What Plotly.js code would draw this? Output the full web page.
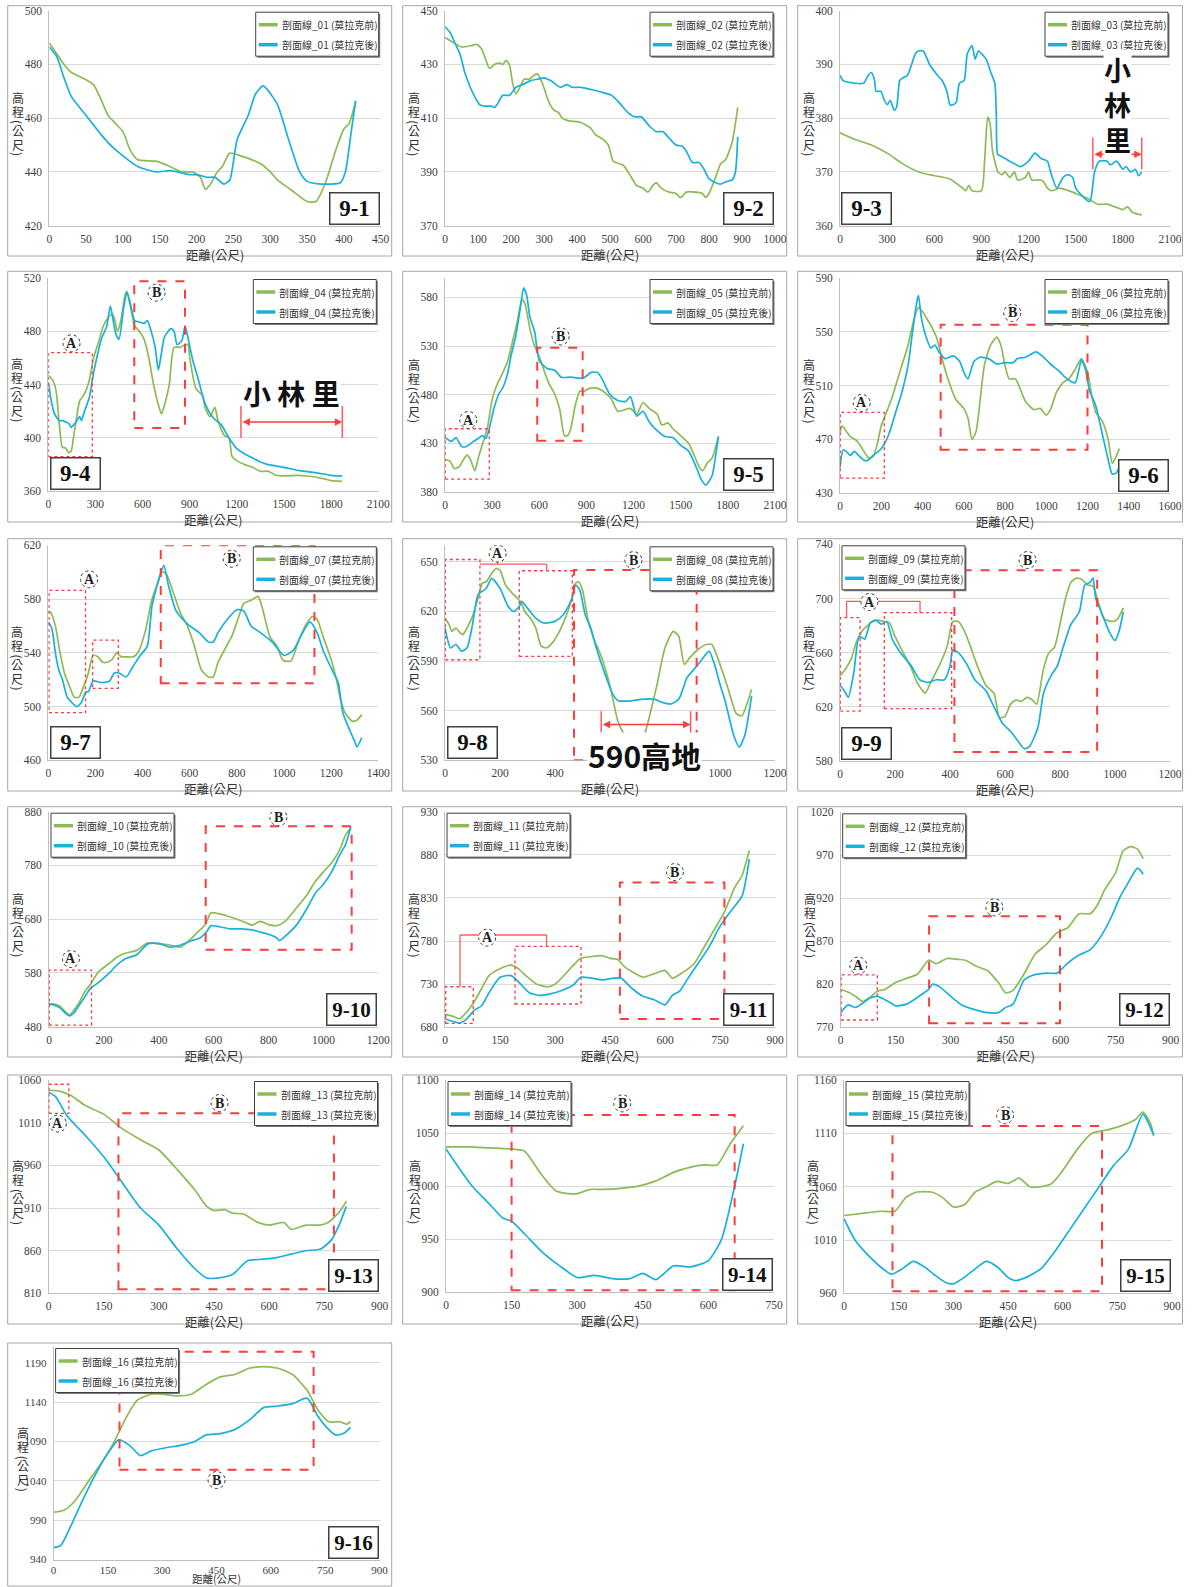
<!DOCTYPE html>
<html><head><meta charset="utf-8">
<script src="https://cdn.plot.ly/plotly-3.0.1.min.js"></script>
<style>html,body{margin:0;padding:0;background:#fff;}#chart{width:1192px;height:1587px;}</style>
</head><body><div id="chart"></div>
<script>
// ---------------- DATA ----------------
const panelLabels = ['9-1','9-2','9-3','9-4','9-5','9-6','9-7','9-8','9-9','9-10','9-11','9-12','9-13','9-14','9-15','9-16'];
const profileIds = ['01','02','03','04','05','06','07','08','09','10','11','12','13','14','15','16'];
const beforeSuffix = ' (莫拉克前)';
const afterSuffix = ' (莫拉克後)';
const xTitleText = '距離(公尺)';
const yTitleChars = ['高','程','(','公','尺',')'];

const xMax  = [450,1000,2100,2100,2100,1600,1400,1200,1200,1200,900,900,900,750,900,900];
const xStep = [50,100,300,300,300,200,200,200,200,200,150,150,150,150,150,150];
const yMin  = [420,370,360,360,380,430,460,530,580,480,680,770,810,900,960,940];
const yMax  = [500,450,400,520,600,590,620,660,740,880,930,1020,1060,1100,1160,1210];
const yStep = [20,20,10,40,50,40,40,30,40,100,50,50,50,50,50,50];

const p01BeforeX = [0,10,20,30,45,60,70,80,90,100,110,120,145,160,180,195,205,212,220,228,235,245,260,280,290,300,310,330,350,362,375,390,400,407,416];
const p01BeforeY = [488,484,480,477,475,472.5,467,461,458,455,448,444.5,444,442.5,440,440,438,433.5,436,440,442,447,446,444,442.5,440,437,433,429,429,436,449,456,458,466];
const p01AfterX = [0,10,20,30,50,70,85,100,120,145,165,190,200,215,225,237,245,255,270,280,290,295,310,325,340,350,370,395,402,410,416];
const p01AfterY = [486.5,483,475,468,461,454,449.5,446,442,440,440.5,439,439,438,438,435.5,437,452,461,469,472,471,465,452,440,436.5,435.5,436,440,455,466.5];

const p02BeforeX = [0,20,50,80,95,110,120,135,150,165,175,185,195,205,215,225,240,255,270,280,295,315,330,345,355,375,410,440,455,480,495,510,540,560,580,600,615,630,640,655,680,700,712,720,730,760,780,790,800,820,835,850,870,887];
const p02BeforeY = [440,438.5,436.5,437,437.5,436,433,428.5,430,430.5,430,431.5,430,423,419,421,424.5,424.5,426,426.5,423,416,413,412,410,409,408.5,406.5,404,402,400,394,392.5,389,385,384,382.5,385,386,384,382.5,382,380.5,381,382.5,382.5,382,380.5,382,388,393,394.5,401,414];
const p02AfterX = [0,15,30,45,60,75,90,105,120,140,150,160,175,195,215,235,260,280,300,320,350,370,385,410,450,480,505,530,555,575,595,620,640,660,680,700,720,730,750,770,785,800,820,835,855,870,880,887];
const p02AfterY = [444,442,438,434,427,422,418,415,414.5,414.5,414,415.5,418.5,418.5,421.5,422.5,424,424.5,425,424,421.5,422.5,421.5,421.5,420.5,419.5,418.5,415.5,412,410.5,410.5,407,405,405,402.5,400,399.5,398,393.5,393.5,391,387.5,386,385.5,386.5,387,390,403];

const p03BeforeX = [0,100,200,300,400,500,600,700,780,800,820,840,900,920,940,955,970,985,1005,1030,1050,1080,1110,1130,1180,1200,1220,1280,1300,1320,1350,1400,1500,1580,1640,1700,1750,1800,1830,1860,1920];
const p03BeforeY = [377.3,376,375,373.5,371.5,370,369.3,368.7,367,366.5,367.5,366.5,366.5,372,380.2,379,374,372,370,369.5,370,369,370,368.5,369,370,368.5,368.5,368,367,366.5,367,366,365,364,364,363.5,363,363.5,362.5,362];
const p03AfterX = [0,20,100,150,180,200,220,230,260,280,300,320,345,360,380,400,430,480,500,530,570,620,650,680,700,720,740,760,790,810,840,860,880,900,930,960,985,995,1003,1020,1080,1150,1200,1240,1280,1320,1340,1380,1420,1450,1480,1500,1560,1590,1600,1620,1650,1700,1720,1760,1800,1820,1850,1880,1900,1920];
const p03AfterY = [388,387,386.5,386.5,388,388.5,387,385,385,383.5,382.5,383.3,381.5,382,387,387.5,388,392,392.5,392.5,390,388,387,385,382.5,382.5,383,386.5,387,392,393.5,391,392.5,392,391,388.5,386.5,380,373.3,373,372,371,372,373.5,372.5,372,370,367,369,369.5,369,367,365,364.5,365.5,370,372,372,371.3,372,370.5,371,370,370.5,369.3,370];

const p04BeforeX = [0,30,50,70,90,110,130,145,160,180,200,230,260,290,320,350,380,405,420,440,460,490,500,520,550,580,610,640,670,700,720,740,770,800,840,870,890,900,940,980,1000,1030,1060,1080,1120,1150,1170,1200,1250,1300,1350,1400,1450,1500,1580,1650,1750,1800,1870];
const p04BeforeY = [447,443,435,410,393,392.5,389,390,400,415,428,433,443,461,472,484,490,493,490,480,487,508,510,500,484,480,474,460,440,425,418,425,440,468,468,470,470,460,437,432,422,416,423,413,402,400,386,383,380,378,375,375,372,371.5,372,371.5,369.5,368,367.5];
const p04AfterX = [0,20,40,70,90,110,130,145,170,200,210,230,260,290,320,340,370,395,410,430,450,480,500,520,550,580,610,630,650,680,700,715,740,780,800,820,850,870,880,920,950,1000,1050,1100,1150,1200,1250,1300,1350,1400,1500,1600,1700,1800,1870];
const p04AfterY = [442,427,418,413,413,412,411,408,411,416,413,420,430,450,466,475,483,499,490,478,474,498,509,502,488,487,486,488,482,468,451,460,476,482,480,470,473,484,480,458,446,425,415,410,400,392,388,385,382,380,378,375.5,374,372,371.5];

const p05BeforeX = [0,30,60,90,120,140,160,190,210,240,270,300,330,360,400,430,460,490,510,540,570,600,630,660,700,730,760,780,800,830,860,880,910,950,980,1020,1060,1100,1150,1180,1220,1260,1300,1350,1380,1420,1450,1500,1550,1580,1620,1640,1670,1700,1720,1740];
const p05BeforeY = [413,412,404,406,414,418,414,402,414,430,446,475,490,500,515,535,555,578,573,548,530,519,505,492,480,465,438,438,445,470,484,483,486,487,486,482,475,463,465,466,460,472,466,460,449,451,445,438,430,420,405,402,410,415,425,437];
const p05AfterX = [0,40,70,100,120,150,180,210,240,260,280,310,340,370,400,420,450,480,500,520,540,570,600,650,700,740,800,880,930,970,1000,1050,1100,1150,1180,1220,1260,1300,1350,1400,1450,1500,1550,1600,1630,1660,1700,1720,1740];
const p05AfterY = [436,432,436,428,426,428,432,435,438,435,444,465,480,488,503,520,540,570,590,582,560,545,515,507,505,498,498,497,503,503,496,480,474,473,478,458,463,452,443,437,436,428,422,405,393,387,397,415,437];

const p06BeforeX = [0,10,30,50,80,100,120,140,160,180,200,220,250,280,300,330,360,380,400,420,450,470,500,530,560,600,620,640,660,680,700,730,760,780,800,820,850,880,900,940,970,1000,1020,1050,1080,1110,1140,1170,1200,1220,1240,1270,1300,1320,1335,1355];
const p06BeforeY = [475,480,476,472,469,465,460,456,457,466,480,488,500,515,525,540,560,568,565,560,552,545,527,512,500,493,486,470,476,500,525,540,546,540,525,515,515,505,498,492,493,488,492,505,512,515,522,530,520,503,490,484,470,452,456,463];
const p06AfterX = [0,15,30,50,70,90,120,140,160,180,210,240,270,300,330,350,370,380,395,420,440,460,480,510,550,580,600,620,650,680,720,760,800,840,860,900,950,980,1020,1060,1100,1140,1160,1170,1190,1210,1240,1270,1300,1320,1340,1355];
const p06AfterY = [449,462,461,458,461,458,454,455,458,460,465,475,490,505,525,548,570,577,560,545,538,540,535,530,532,528,520,515,528,531,530,526,527,527,530,531,535,532,526,521,515,512,523,529,522,506,495,475,455,444,445,450];

const p07BeforeX = [0,10,30,50,70,90,110,130,150,170,190,210,230,250,270,290,310,330,360,380,410,440,460,480,500,530,560,590,620,650,680,700,720,750,780,810,830,860,890,910,940,970,990,1000,1030,1060,1090,1120,1140,1170,1200,1220,1240,1260,1290,1310,1330];
const p07BeforeY = [571,570,560,540,524,515,507,507,515,525,538,537,533,533,535,540,537,537,537,540,555,580,590,600,599,585,570,560,545,527,522,522,533,543,553,568,577,579,582,572,552,545,536,534,534,548,560,567,565,550,535,522,505,495,489,490,494];
const p07AfterX = [0,15,30,45,60,80,100,120,140,160,170,190,220,240,260,280,300,330,360,390,420,440,470,490,510,540,570,600,640,680,700,720,760,800,830,860,900,950,1000,1040,1070,1110,1140,1170,1210,1230,1250,1280,1300,1310,1330];
const p07AfterY = [563,558,540,527,520,507,503,500,503,511,511,519,518,518,519,525,525,522,530,538,545,575,595,605,590,572,565,560,555,548,548,555,565,572,571,560,555,548,538,542,552,563,555,540,525,518,495,482,474,470,477];

const p08BeforeX = [0,15,25,40,55,65,80,100,120,135,150,170,185,200,220,250,275,290,310,330,350,370,390,410,440,460,475,485,500,520,540,570,600,630,660,690,710,730,770,800,830,850,870,890,920,950,970,1000,1030,1060,1080,1100,1115];
const p08BeforeY = [616,612,608,610,607,606,610,617,628,637,638,643,646,645,636,630,626,620,616,610,599,598,601,606,617,627,637,638,633,615,604,592,575,553,544,545,538,548,575,598,608,605,588,592,597,600,600,588,573,558,557,565,573];
const p08AfterX = [0,20,40,60,80,100,120,150,170,200,230,250,270,280,300,330,360,400,430,460,475,490,510,530,550,580,610,630,680,720,760,790,820,850,880,900,930,960,980,1000,1020,1050,1070,1090,1115];
const p08AfterY = [610,598,600,596,598,612,630,634,640,634,623,620,623,626,622,616,613,614,618,627,636,633,618,610,598,583,570,566,566,567,567,565,564,567,580,584,590,596,588,576,565,545,538,545,569];

const p09BeforeX = [0,20,40,60,80,100,120,140,160,180,200,230,260,280,300,310,330,360,390,410,430,450,470,500,530,560,580,600,620,640,660,680,700,715,740,760,780,800,820,840,860,880,900,920,940,960,990,1010,1030];
const p09BeforeY = [643,648,655,668,676,680,683,684,683,682,672,660,648,638,632,630,638,650,665,683,683,677,667,650,636,630,612,613,622,625,624,627,625,622,648,660,664,681,700,712,715,714,710,709,697,685,683,685,693];
const p09AfterX = [0,15,30,50,70,90,110,130,150,170,190,220,260,290,320,350,380,400,410,430,460,490,530,560,590,620,650,670,690,720,740,770,790,810,840,870,890,910,920,930,950,980,1000,1015,1030];
const p09AfterY = [636,632,627,645,672,670,682,684,681,683,670,660,650,640,638,640,640,650,662,660,652,640,632,620,608,602,594,589,591,605,630,644,650,663,681,690,710,712,715,700,690,675,669,676,690];

const p10BeforeX = [0,20,40,60,75,90,110,130,150,180,220,250,280,320,360,400,440,480,510,550,570,590,620,650,690,720,740,770,800,830,860,900,940,970,1000,1030,1060,1080,1100];
const p10BeforeY = [523,522,518,508,502,510,525,545,558,582,598,610,617,622,636,634,632,628,640,660,670,692,690,686,679,673,669,676,670,668,676,700,725,750,768,785,810,836,850];
const p10AfterX = [0,20,40,60,75,90,110,130,150,180,220,250,280,320,360,400,440,480,520,550,575,590,620,660,700,740,770,800,830,840,860,900,940,970,1000,1030,1060,1080,1100];
const p10AfterY = [522,520,515,505,500,505,520,535,551,562,580,596,607,614,634,635,628,632,640,645,657,668,666,662,662,660,656,652,645,640,648,668,700,728,745,768,800,818,852];

const p11BeforeX = [0,20,40,60,80,100,120,150,180,200,220,250,280,300,320,350,370,400,430,450,470,490,520,540,570,600,620,650,680,700,730,760,790,810,830];
const p11BeforeY = [695,693,690,698,710,725,740,748,752,748,740,730,727,730,738,752,760,762,763,760,759,750,742,738,742,746,737,744,754,768,790,812,842,856,885];
const p11AfterX = [0,20,40,60,80,100,120,150,180,200,230,260,290,320,350,370,400,430,460,480,510,540,570,600,620,640,660,690,720,750,780,810,830];
const p11AfterY = [690,687,685,690,700,705,720,738,740,733,720,717,719,723,729,738,737,735,737,737,725,716,712,706,717,722,735,754,773,797,815,832,875];

const p12BeforeX = [0,20,40,60,80,100,120,150,180,210,240,260,290,320,340,370,400,430,450,470,500,530,560,590,620,650,680,700,720,750,770,790,810,825];
const p12BeforeY = [814,811,806,800,805,812,814,822,827,832,848,844,850,849,848,841,836,822,810,813,832,855,866,880,886,902,902,912,930,950,975,980,977,966];
const p12AfterX = [0,20,40,60,80,100,130,150,180,210,240,250,270,300,330,370,400,430,450,470,500,520,560,590,620,650,680,710,740,760,780,810,825];
const p12AfterY = [787,796,793,798,804,806,800,795,797,805,814,820,817,806,796,790,787,787,793,797,825,830,833,833,845,854,860,876,900,920,935,955,948];

const p13BeforeX = [0,30,60,100,150,200,250,300,350,400,430,450,480,500,530,570,600,640,660,700,740,760,790,810];
const p13BeforeY = [1048,1047,1042,1030,1020,1003,990,978,955,930,912,907,908,904,903,893,890,893,885,890,890,893,905,918];
const p13AfterX = [0,20,50,100,150,200,250,300,350,400,430,460,500,540,580,620,660,700,740,770,790,810];
const p13AfterY = [1046,1040,1018,995,970,940,910,890,862,838,828,828,832,848,850,852,856,860,862,873,890,912];

const p14BeforeX = [0,50,100,150,180,200,220,250,280,300,330,360,400,440,480,520,560,590,620,650,680];
const p14BeforeY = [1037,1037,1036,1035,1033,1022,1010,996,993,993,997,997,998,1000,1005,1013,1018,1020,1020,1040,1057];
const p14AfterX = [0,30,60,100,130,150,180,220,260,300,340,380,420,450,480,520,560,600,630,660,680];
const p14AfterY = [1035,1017,1000,983,970,967,955,938,925,914,916,913,913,918,912,925,924,930,950,1000,1040];

const p15BeforeX = [0,50,100,140,170,200,240,270,300,330,360,390,420,450,480,510,540,570,600,640,680,720,760,800,820,840,850];
const p15BeforeY = [1033,1035,1037,1037,1050,1055,1055,1050,1041,1043,1055,1060,1065,1063,1068,1060,1060,1063,1075,1095,1110,1113,1117,1123,1130,1120,1108];
const p15AfterX = [0,30,60,100,130,160,190,220,250,280,300,330,360,390,420,450,470,500,540,580,620,660,700,740,780,820,835,850];
const p15AfterY = [1030,1010,998,985,978,983,990,985,977,970,969,975,983,990,985,975,972,975,983,1000,1020,1040,1060,1080,1095,1128,1120,1108];

const p16BeforeX = [0,30,60,100,140,170,200,230,270,300,340,380,420,460,500,540,580,620,660,700,730,760,790,810,820];
const p16BeforeY = [1000,1003,1015,1042,1068,1092,1120,1142,1150,1150,1148,1150,1162,1172,1175,1183,1185,1183,1175,1155,1130,1115,1115,1112,1115];
const p16AfterX = [0,20,50,80,110,140,180,210,240,270,310,350,390,420,460,500,540,580,620,660,700,730,760,780,800,820];
const p16AfterY = [955,958,985,1015,1043,1068,1092,1085,1072,1078,1082,1085,1090,1098,1100,1105,1117,1133,1135,1138,1145,1122,1105,1098,1100,1108];

const series = [
  [p01BeforeX,p01BeforeY,p01AfterX,p01AfterY],[p02BeforeX,p02BeforeY,p02AfterX,p02AfterY],
  [p03BeforeX,p03BeforeY,p03AfterX,p03AfterY],[p04BeforeX,p04BeforeY,p04AfterX,p04AfterY],
  [p05BeforeX,p05BeforeY,p05AfterX,p05AfterY],[p06BeforeX,p06BeforeY,p06AfterX,p06AfterY],
  [p07BeforeX,p07BeforeY,p07AfterX,p07AfterY],[p08BeforeX,p08BeforeY,p08AfterX,p08AfterY],
  [p09BeforeX,p09BeforeY,p09AfterX,p09AfterY],[p10BeforeX,p10BeforeY,p10AfterX,p10AfterY],
  [p11BeforeX,p11BeforeY,p11AfterX,p11AfterY],[p12BeforeX,p12BeforeY,p12AfterX,p12AfterY],
  [p13BeforeX,p13BeforeY,p13AfterX,p13AfterY],[p14BeforeX,p14BeforeY,p14AfterX,p14AfterY],
  [p15BeforeX,p15BeforeY,p15AfterX,p15AfterY],[p16BeforeX,p16BeforeY,p16AfterX,p16AfterY]
];

// annotation regions in data units: [panel, x0, x1, y0, y1]
const regionB = [[4,547,870,407.5,517.5],[5,587,876,432.6,528.4],[6,488,1200,462.2,555.3],[7,477,1129,517.3,620],[8,469,915,530.1,645],[9,416,935,586.6,720.8],[10,571,1103,623.3,852.7],[11,477,762,689.6,848],[12,241,598,774.6,899],[13,190,776,815,1021],[14,150,660,902,1067],[15,133,708,962,1117],[16,182,718,1054,1204]];
const regionA = [[4,1,280,386,464],[5,1,282,393.3,445],[6,1,215,441,490],[7,3,158,495.5,586.5],[7,188,297,513.5,549.5],[8,1,127,590.8,651.4],[8,270,463,592.8,644.6],[9,1,73,616.8,685.8],[9,161,406,618.6,689.5],[10,1,155,483,585.4],[11,2,77,684.5,727],[11,191,371,707,773.9],[12,1,100,778.5,830.9],[13,1,55,1021,1055]];
const markers = [[4,'A',148,471],[4,'B',689,509],[5,'A',148,454],[5,'B',736,540],[6,'A',105,497],[6,'B',835,564],[7,'A',173,594.7],[7,'B',778,610],[8,'A',191.5,655],[8,'B',685,651],[9,'A',107,697.4],[9,'B',682,728.4],[10,'A',80,606],[10,'B',836,869.5],[11,'A',115,784],[11,'B',627,860],[12,'A',48,841.8],[12,'B',419,909.5],[13,'A',25,1009],[13,'B',465,1033],[14,'B',403,1078],[15,'B',442,1127],[16,'B',450,1041]];
const connectors = [[8,[[127,648.6],[370,648.6],[370,644.6]]],[8,[[191.5,651],[191.5,648.6]]],[9,[[24,685.8],[24,697.9],[291,697.9],[291,689.5]]],[11,[[41,727],[41,787],[277,787],[277,774]]]];
const spans = [[3,1609,1920,373.3,370.5,376.4],[4,1226,1871,412,400,424],[8,568,893,551.6,543.6,559.6]];
const bigTexts = [[3,'小<br>林<br>里',1767,382.6,27],[4,'小 林 里',1549,434,28],[8,'590高地',727,533.5,30]];

// ---------------- LAYOUT GEOMETRY (pixels) ----------------
const W = 1192, H = 1587;
const fx = v => v / W, fy = v => 1 - v / H;
const plotRects = [[49.3,10.7,380.7,225.7],[445,10.7,775,225.7],[840,10.7,1170,225.7],
  [48.3,278,378.3,491.3],[445,278,775,492],[840,278,1170,493],
  [48.3,545.3,378.3,760.3],[445,545.3,775,760.3],[840,544.3,1170,761],
  [49,811.7,378.3,1026.7],[445,811.7,775,1027.3],[840.7,812.3,1170.7,1027.3],
  [48.6,1080,379.5,1293.4],[446,1080,774,1292.4],[844,1080,1172,1293.4],
  [53.6,1347,379.5,1559.5]];
const frameCols = [[7.7,391.7],[402.7,786.7],[797.7,1182.5]];
const frameRows = [[5.7,256],[271.3,522],[538.7,791],[806.7,1057],[1075,1324],[1343,1586]];
const legendLeft = [false,false,false,false,false,false,false,false,true,true,true,true,false,true,true,true];
const labelLeft = [false,false,true,true,false,false,true,true,true,false,false,false,false,false,false,false];
const yTitleOffsets = [-21,-7,4,12,26,36];

const GREEN = '#8cbb55', BLUE = '#19b0dc', RED = '#ff3b3b';
const traces = [], shapes = [], annotations = [], legendShapes = [];
const layout = {width:W, height:H, margin:{l:0,r:0,t:0,b:0}, paper_bgcolor:'#fff', plot_bgcolor:'#fff',
  showlegend:false, hovermode:false, shapes, annotations};
const titleFont = {family:'Noto Sans CJK TC', size:12.5, color:'#333'};

for (let i = 0; i < 16; i++) {
  const n = i + 1, sfx = n === 1 ? '' : String(n);
  const xa = 'x' + sfx, ya = 'y' + sfx;
  const [l,t,r,b] = plotRects[i];
  const s = series[i];
  const nameB = '剖面線_' + profileIds[i] + beforeSuffix, nameA = '剖面線_' + profileIds[i] + afterSuffix;
  traces.push({type:'scatter', mode:'lines', x:s[0], y:s[1], name:nameB,
    xaxis:xa, yaxis:ya, line:{color:GREEN, width:1.7, shape:'spline', smoothing:0.6}});
  traces.push({type:'scatter', mode:'lines', x:s[2], y:s[3], name:nameA,
    xaxis:xa, yaxis:ya, line:{color:BLUE, width:1.7, shape:'spline', smoothing:0.6}});
  const lastRow = n === 16;
  const tickFont = {family:'Liberation Serif, Times New Roman, serif', size: lastRow ? 11 : 11.5, color:'#404040'};
  layout['xaxis' + sfx] = {domain:[fx(l), fx(r)], anchor:ya, range:[0, xMax[i]], tick0:0, dtick:xStep[i],
    showgrid:false, zeroline:false, showline:true, linecolor:'#bfbfbf', linewidth:1, ticks:'', tickfont:tickFont,
    ticklabelstandoff: lastRow ? 0 : 2,
    title: lastRow ? {text:''} : {text:xTitleText, font:titleFont, standoff:0}};
  if (lastRow) {
    // the page ends just below this axis: the title sits against the page edge, as in the source
    annotations.push({xref:'paper', yref:'paper', x:fx((l + r) / 2), y:fy(1586.6), text:xTitleText, showarrow:false,
      xanchor:'center', yanchor:'bottom', borderpad:0, font:{family:'Noto Sans CJK TC', size:10.5, color:'#333'}});
  }
  layout['yaxis' + sfx] = {domain:[fy(b), fy(t)], anchor:xa, range:[yMin[i], yMax[i]], tick0:yMin[i], dtick:yStep[i],
    showgrid:true, gridcolor:'#d9d9d9', gridwidth:1, zeroline:false, showline:true, linecolor:'#bfbfbf', linewidth:1,
    ticks:'', tickfont:tickFont, ticklabelstandoff:4};
  // legend box (drawn manually: thick line samples like the source)
  const lgW = 123, lgH = 44;
  const bx0 = legendLeft[i] ? l + 2 : r - 2 - lgW, by0 = t + 1.5;
  legendShapes.push({type:'rect', xref:'paper', yref:'paper', x0:fx(bx0 + 1.5), x1:fx(bx0 + lgW + 1.5),
    y0:fy(by0 + lgH + 1.5), y1:fy(by0 + 1.5), line:{width:0}, fillcolor:'#7a7a7a'});
  legendShapes.push({type:'rect', xref:'paper', yref:'paper', x0:fx(bx0), x1:fx(bx0 + lgW),
    y0:fy(by0 + lgH), y1:fy(by0), line:{color:'#404040', width:1}, fillcolor:'#fff'});
  [[GREEN, nameB],[BLUE, nameA]].forEach(([c, nm], k) => {
    const yy = by0 + 12.5 + 20 * k;
    legendShapes.push({type:'line', xref:'paper', yref:'paper', x0:fx(bx0 + 3), x1:fx(bx0 + 22), y0:fy(yy), y1:fy(yy),
      line:{color:c, width:3.5}});
    annotations.push({xref:'paper', yref:'paper', x:fx(bx0 + 24), y:fy(yy), text:nm, showarrow:false,
      xanchor:'left', yanchor:'middle', font:{family:'Noto Sans CJK TC', size:10, color:'#333'}});
  });
  // frame
  const row = Math.floor(i / 3), col = i % 3;
  shapes.push({type:'rect', xref:'paper', yref:'paper', x0:fx(frameCols[col][0]), x1:fx(frameCols[col][1]),
    y0:fy(frameRows[row][1]), y1:fy(frameRows[row][0]), line:{color:'#a6a6a6', width:1}, layer:'below'});
  // y title: stacked vertical characters, parentheses turned
  yTitleChars.forEach((ch, k) => {
    const turned = ch === '(' || ch === ')';
    annotations.push({xref:'paper', yref:'paper', x:fx(l - 31), y:fy((t + b) / 2 + yTitleOffsets[k]), text:ch,
      showarrow:false, textangle: turned ? 90 : 0, xanchor:'center', yanchor:'middle',
      font:{family:'Noto Sans CJK TC', size:12, color:'#333'}});
  });
  // label box
  const lbl = panelLabels[i];
  const longLbl = lbl.length > 3;
  annotations.push({xref:'paper', yref:'paper', x: labelLeft[i] ? fx(l + 1.5) : fx(r - 1), y: fy(b - 1),
    xanchor: labelLeft[i] ? 'left' : 'right', yanchor:'bottom', text:'<b>' + lbl + '</b>', showarrow:false,
    font:{family:'Liberation Serif, Times New Roman, serif', size: longLbl ? 21 : 23, color:'#111'},
    bgcolor:'#fff', bordercolor:'#404040', borderwidth:1.5, borderpad:1, width:46, height:28});
}

const ax = n => ({x: n === 1 ? 'x' : 'x' + n, y: n === 1 ? 'y' : 'y' + n});
regionB.forEach(([n,x0,x1,y0,y1]) => { const a = ax(n);
  shapes.push({type:'rect', xref:a.x, yref:a.y, x0, x1, y0, y1, line:{color:RED, width:2, dash:'dash'}}); });
regionA.forEach(([n,x0,x1,y0,y1]) => { const a = ax(n);
  shapes.push({type:'rect', xref:a.x, yref:a.y, x0, x1, y0, y1, line:{color:RED, width:1.3, dash:'dot'}}); });
connectors.forEach(([n,pts]) => { const a = ax(n);
  for (let k = 0; k < pts.length - 1; k++) shapes.push({type:'line', xref:a.x, yref:a.y, x0:pts[k][0], y0:pts[k][1],
    x1:pts[k+1][0], y1:pts[k+1][1], line:{color:'#f06060', width:1.3}}); });
markers.forEach(([n,letter,x,y]) => { const a = ax(n);
  shapes.push({type:'circle', xref:a.x, yref:a.y, xsizemode:'pixel', ysizemode:'pixel', xanchor:x, yanchor:y,
    x0:-8.5, x1:8.5, y0:-8.5, y1:8.5, line:{color:'#333', width:1, dash:'dot'}, fillcolor:'#fff'});
  annotations.push({xref:a.x, yref:a.y, x, y, text:'<b>' + letter + '</b>', showarrow:false, xanchor:'center', yanchor:'middle',
    font:{family:'Liberation Serif, Times New Roman, serif', size:14, color:'#222'}}); });
spans.forEach(([n,x0,x1,y,lo,hi]) => { const a = ax(n);
  shapes.push({type:'line', xref:a.x, yref:a.y, x0, x1:x0, y0:lo, y1:hi, line:{color:'#ff5a5a', width:1.5}});
  shapes.push({type:'line', xref:a.x, yref:a.y, x0:x1, x1, y0:lo, y1:hi, line:{color:'#ff5a5a', width:1.5}});
  annotations.push({xref:a.x, yref:a.y, x:x1, y, axref:a.x, ayref:a.y, ax:x0, ay:y, text:'', showarrow:true,
    arrowside:'end+start', arrowhead:2, arrowsize:1, arrowwidth:1.5, arrowcolor:'#ff3b3b', standoff:0, startstandoff:0}); });
bigTexts.forEach(([n,text,x,y,size]) => { const a = ax(n);
  annotations.push({xref:a.x, yref:a.y, x, y, text:'<b>' + text + '</b>', showarrow:false, xanchor:'center', yanchor:'middle',
    bgcolor:'#fff', borderpad:0, font:{family:'Noto Sans CJK TC', size, color:'#111'}}); });
legendShapes.forEach(sh => shapes.push(sh));

Plotly.newPlot('chart', traces, layout, {staticPlot:true, displayModeBar:false});
</script></body></html>
